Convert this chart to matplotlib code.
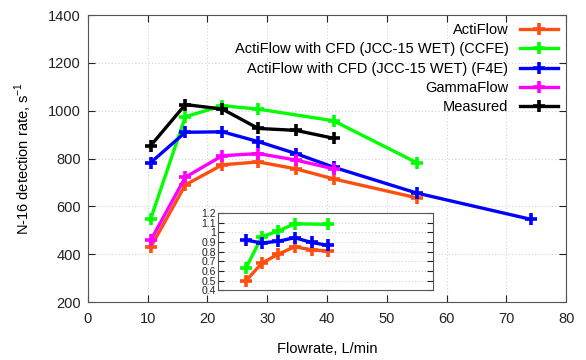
import matplotlib
matplotlib.use("Agg")
import matplotlib.pyplot as plt

plt.rcParams['font.family'] = ['Liberation Sans', 'DejaVu Sans']
plt.rcParams['mathtext.fontset'] = 'custom'
plt.rcParams['mathtext.rm'] = 'Liberation Sans'

# Main chart data
flow_acti = [10.5, 16.3, 22.5, 28.5, 34.8, 41.1, 55.0]
acti = [429, 690, 774, 786, 757, 715, 636]

flow_ccfe = [10.5, 16.3, 22.5, 28.5, 41.1, 55.0]
ccfe = [547, 975, 1021, 1007, 958, 783]

flow_f4e = [10.5, 16.3, 22.5, 28.5, 34.8, 41.1, 55.0, 74.1]
f4e = [783, 910, 912, 871, 821, 764, 656, 546]

flow_gamma = [10.5, 16.3, 22.5, 28.5, 34.8, 41.1]
gamma = [458, 722, 812, 821, 794, 757]

flow_meas = [10.5, 16.3, 22.5, 28.5, 34.8, 41.1]
meas = [854, 1026, 1007, 926, 918, 885]

# Inset: ratio to measured
ins_flow_acti = [10.5, 16.3, 22.5, 28.5, 34.8, 41.1]
ins_acti = [0.50, 0.68, 0.775, 0.85, 0.82, 0.805]
ins_flow_ccfe = [10.5, 16.3, 22.5, 28.5, 41.1]
ins_ccfe = [0.635, 0.955, 1.015, 1.09, 1.083]
ins_flow_f4e = [10.5, 16.3, 22.5, 28.5, 34.8, 41.1]
ins_f4e = [0.92, 0.89, 0.908, 0.945, 0.895, 0.864]
ins_ticks = [0.4, 0.5, 0.6, 0.7, 0.8, 0.9, 1.0, 1.1, 1.2]
ins_ticklabels = ['0.4', '0.5', '0.6', '0.7', '0.8', '0.9', '1', '1.1', '1.2']

c_acti = '#ff4f10'
c_ccfe = '#00ff00'
c_f4e = '#0000ff'
c_gamma = '#ff00ff'
c_meas = '#000000'

fs = 10.5

fig = plt.figure(figsize=(5.86, 3.6), dpi=100)
ax = fig.add_axes([0.150, 0.161, 0.816, 0.797])

style = dict(lw=2.4, marker='+', ms=9, mew=2.6)
ax.plot(flow_acti, acti, color=c_acti, label='ActiFlow', **style)
ax.plot(flow_ccfe, ccfe, color=c_ccfe, label='ActiFlow with CFD (JCC-15 WET) (CCFE)', **style)
ax.plot(flow_f4e, f4e, color=c_f4e, label='ActiFlow with CFD (JCC-15 WET) (F4E)', **style)
ax.plot(flow_gamma, gamma, color=c_gamma, label='GammaFlow', **style)
ax.plot(flow_meas, meas, color=c_meas, label='Measured', **style)

ax.set_xlim(0, 80)
ax.set_ylim(200, 1400)
ax.set_xticks(range(0, 81, 10))
ax.set_yticks(range(200, 1401, 200))
ax.grid(True, color='#d4d4d4', linestyle=(0, (1, 2)), linewidth=0.8)
ax.tick_params(direction='in', top=True, right=True, length=5, labelsize=fs, colors='#222222')
ax.tick_params(axis='x', pad=7)
ax.tick_params(axis='y', pad=5)
for s in ax.spines.values():
    s.set_color('#555555')
ax.set_xlabel('Flowrate, L/min', fontsize=fs, labelpad=12)
ax.set_ylabel('N-16 detection rate, s$^{-1}$', fontsize=fs, labelpad=10)

leg = ax.legend(loc='upper right', frameon=False, markerfirst=False, fontsize=fs,
                handlelength=2.6, handletextpad=0.8, labelspacing=0.36,
                borderaxespad=0.3, borderpad=0.25)

# Inset
axi = fig.add_axes([0.372, 0.194, 0.367, 0.214])
axi.plot(ins_flow_acti, ins_acti, color=c_acti, **style)
axi.plot(ins_flow_ccfe, ins_ccfe, color=c_ccfe, **style)
axi.plot(ins_flow_f4e, ins_f4e, color=c_f4e, **style)
axi.set_xlim(0, 80)
axi.set_ylim(0.4, 1.2)
axi.set_xticks([])
axi.set_yticks(ins_ticks)
axi.set_yticklabels(ins_ticklabels)
axi.grid(True, axis='y', color='#d4d4d4', linestyle=(0, (1, 2)), linewidth=0.8)
axi.tick_params(direction='in', right=True, length=4, labelsize=7.5, pad=1.5, colors='#222222')
for s in axi.spines.values():
    s.set_color('#555555')

fig.savefig('out.png', dpi=100)
